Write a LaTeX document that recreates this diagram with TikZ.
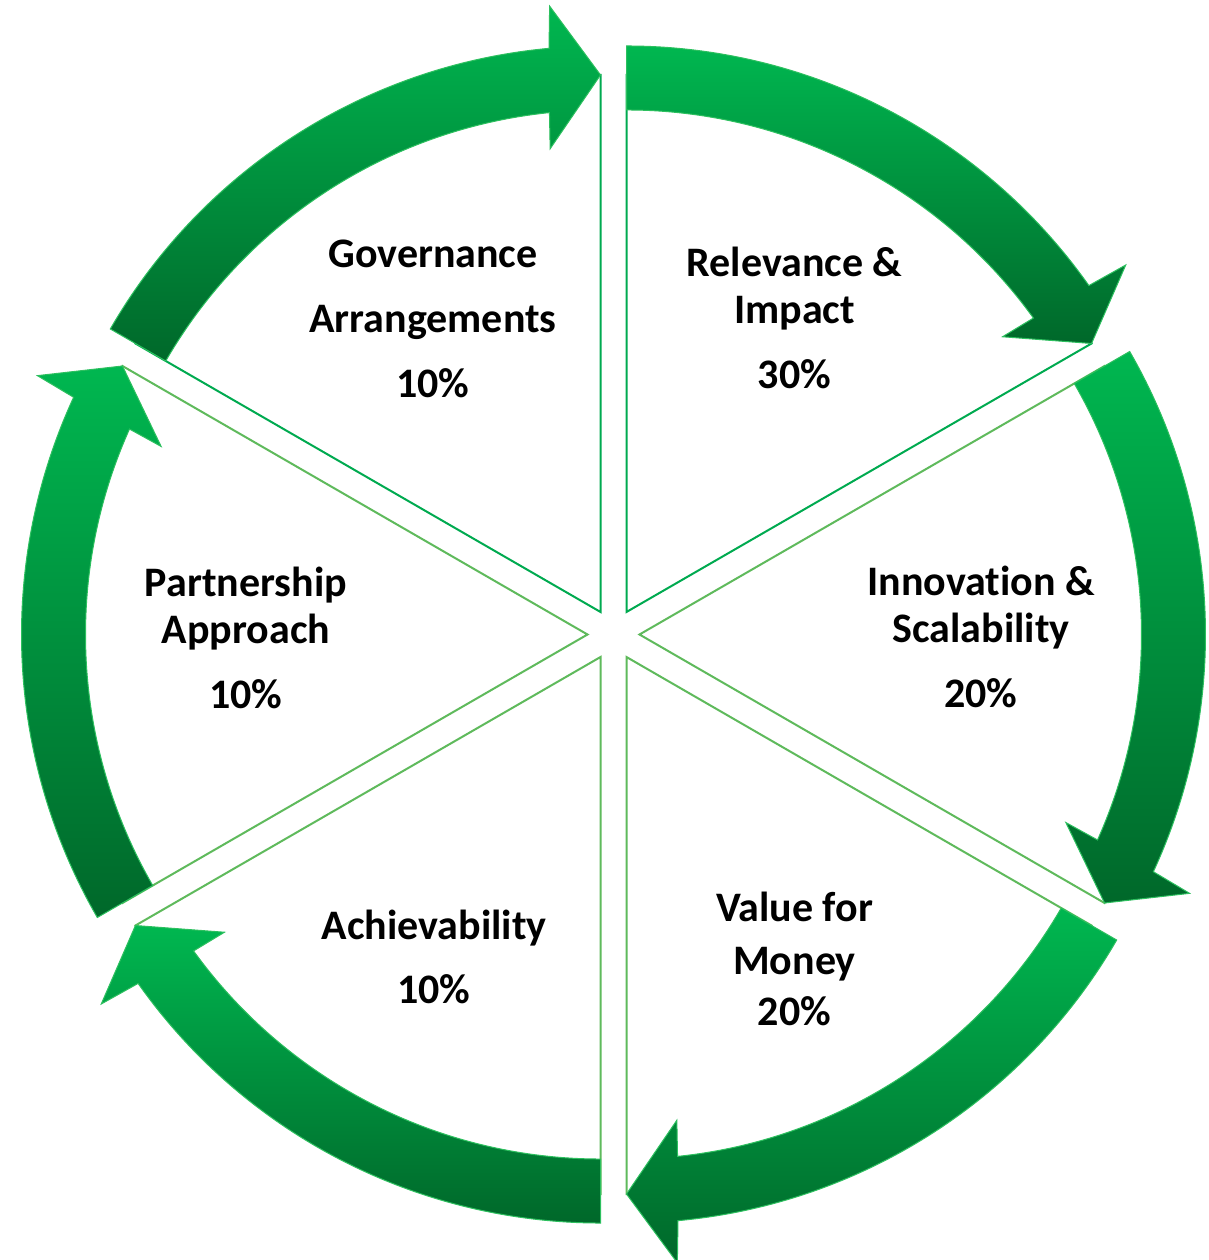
\documentclass[tikz,border=0pt]{standalone}
\usepackage{fontspec}
\setmainfont{Carlito}[Ligatures=NoCommon]
\definecolor{arrtop}{RGB}{0,183,80}
\definecolor{arrbot}{RGB}{0,104,42}
\definecolor{arredge}{RGB}{45,192,95}
\definecolor{wedgedark}{RGB}{0,170,80}
\definecolor{wedgelight}{RGB}{95,186,92}
\newcommand{\drawwedgeat}[2]{%
  \begin{scope}[shift={(#1:26)}]
    \pgfmathsetmacro{\secA}{#1+30}
    \pgfmathsetmacro{\secB}{#1-30}
    \draw[#2] (0,0) -- (\secA:537) arc[start angle=\secA, end angle=\secB, radius=537] -- cycle;
  \end{scope}}
\newcommand{\drawarcarrowat}[1]{%
  \begin{scope}[shift={(#1:26)}]
    \pgfmathsetmacro{\secA}{#1+30}
    \pgfmathsetmacro{\secB}{#1-30}
    \pgfmathsetmacro{\secHo}{\secB+4.8}
    \pgfmathsetmacro{\secJo}{\secB+5.22}
    \pgfmathsetmacro{\secJi}{\secB+5.84}
    \pgfmathsetmacro{\secHi}{\secB+6.2}
    \path[arrowshape] (\secA:566) arc[start angle=\secA, end angle=\secJo, radius=566]
      -- (\secHo:608) -- (\secB:537) -- (\secHi:466) -- (\secJi:502)
      arc[start angle=\secJi, end angle=\secA, radius=502] -- cycle;
  \end{scope}}
\begin{document}
\begin{tikzpicture}[x=1pt,y=1pt,
  lbl/.style={font=\bfseries\fontsize{42}{47}\selectfont, align=center, text=black, inner sep=0pt},
  wedgedk/.style={draw=wedgedark, line width=2pt, line join=miter},
  wedgelt/.style={draw=wedgelight, line width=2pt, line join=miter},
  arrowshape/.style={top color=arrtop, bottom color=arrbot, draw=arredge, line width=1pt, line join=miter}]
\fill[white] (-613.5,-625.5) rectangle (595.5,634.5);
\useasboundingbox (-613.5,-625.5) rectangle (595.5,634.5);
% sectors
\drawwedgeat{120}{wedgedk}
\drawwedgeat{60}{wedgedk}
\drawwedgeat{0}{wedgelt}
\drawwedgeat{-60}{wedgelt}
\drawwedgeat{-120}{wedgelt}
\drawwedgeat{180}{wedgelt}
% arrows
\drawarcarrowat{120}
\drawarcarrowat{60}
\drawarcarrowat{0}
\drawarcarrowat{-60}
\drawarcarrowat{-120}
\drawarcarrowat{180}
% labels
\node[lbl] (gov) at (-180.5,316) {Governance\\[18pt]Arrangements\\[18pt]10\%};
\node[lbl] (rel) at (181,317) {Relevance \&\\Impact\\[18pt]30\%};
\node[lbl] (inn) at (367.5,-2) {Innovation \&\\Scalability\\[18pt]20\%};
\node[lbl] (val) at (181,-324) {Value for\\[6pt]Money\\[4pt]20\%};
\node[lbl] (ach) at (-179.5,-322) {Achievability\\[17pt]10\%};
\node[lbl] (par) at (-367.5,-3) {Partnership\\Approach\\[18pt]10\%};
\end{tikzpicture}
\end{document}
